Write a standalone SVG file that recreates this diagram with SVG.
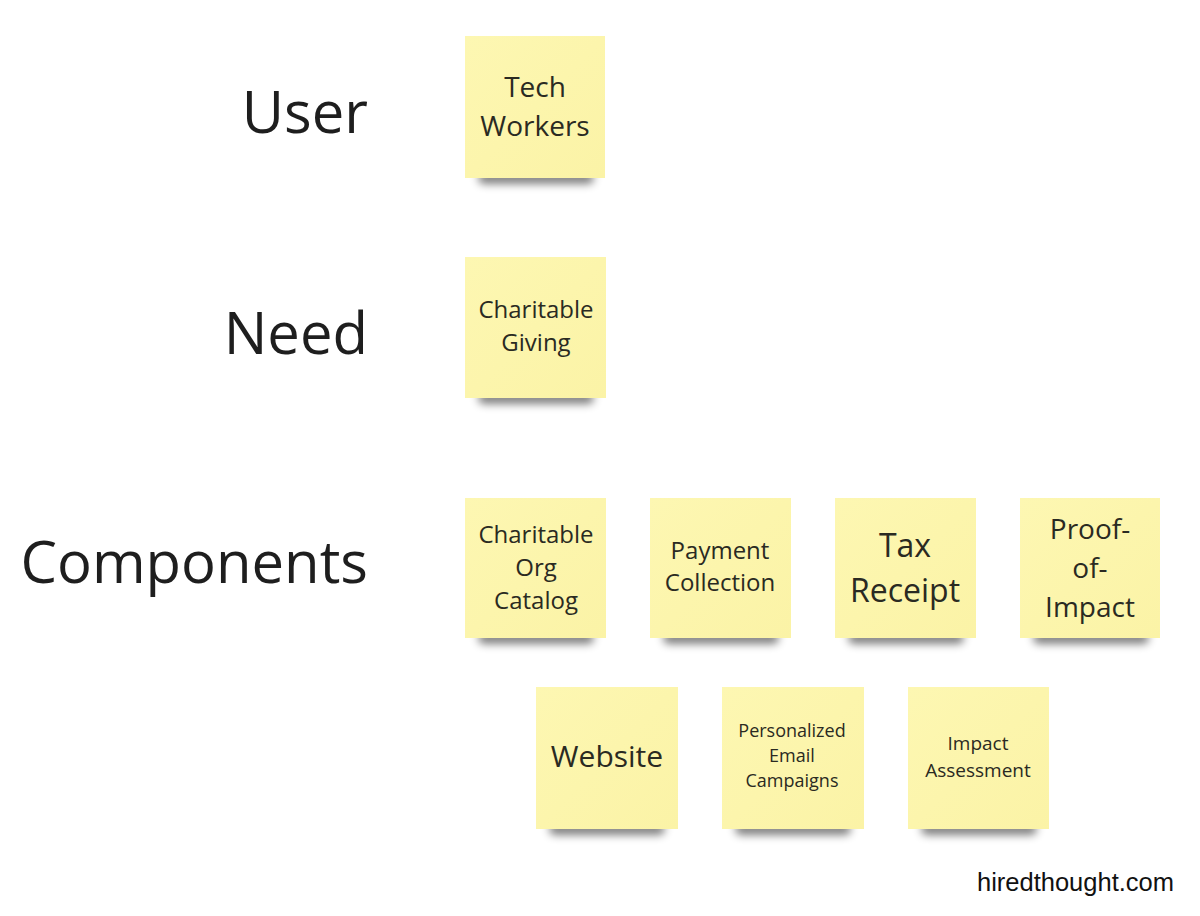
<svg xmlns="http://www.w3.org/2000/svg" width="1200" height="916" viewBox="0 0 1200 916">
<defs>
<filter id="blur" x="-20%" y="-100%" width="140%" height="300%"><feGaussianBlur stdDeviation="4.5"/></filter>
<linearGradient id="paper" x1="0" y1="0" x2="1" y2="1"><stop offset="0" stop-color="#fdf7b2"/><stop offset="1" stop-color="#fbf3a6"/></linearGradient>
</defs>
<style>
.lbl{font-family:"Open Sans","Noto Sans",sans-serif;fill:#1e1e1e;text-anchor:end;font-size:58px}
.t{font-family:"Open Sans","Noto Sans",sans-serif;fill:#2a2a22;text-anchor:middle}
.note{fill:url(#paper)}
.sh{fill:#000;opacity:0.5;filter:url(#blur)}
</style>
<rect width="1200" height="916" fill="#fff"/>
<g id="labels">
<text class="lbl" x="368" y="133">User</text>
<text class="lbl" x="368" y="354">Need</text>
<text class="lbl" x="368" y="583">Components</text>
</g>
<g id="connectors"/>
<g id="n-tech"><rect class="sh" x="478" y="172" width="116" height="12" rx="6"/><rect class="note" x="465" y="36" width="140" height="142"/>
<text class="t" font-size="28" x="535" y="97">Tech</text><text class="t" font-size="28" x="535" y="136">Workers</text></g>
<g id="n-giving"><rect class="sh" x="478" y="392" width="116" height="12" rx="6"/><rect class="note" x="465" y="257" width="141" height="141"/>
<text class="t" font-size="24" x="536" y="318">Charitable</text><text class="t" font-size="24" x="536" y="351">Giving</text></g>
<g id="n-catalog"><rect class="sh" x="478" y="632" width="116" height="12" rx="6"/><rect class="note" x="465" y="498" width="141" height="140"/>
<text class="t" font-size="24" x="536" y="543">Charitable</text><text class="t" font-size="24" x="536" y="576">Org</text><text class="t" font-size="24" x="536" y="609">Catalog</text></g>
<g id="n-payment"><rect class="sh" x="663" y="632" width="116" height="12" rx="6"/><rect class="note" x="650" y="498" width="141" height="140"/>
<text class="t" font-size="24" x="720" y="559">Payment</text><text class="t" font-size="24" x="720" y="591">Collection</text></g>
<g id="n-tax"><rect class="sh" x="848" y="632" width="116" height="12" rx="6"/><rect class="note" x="835" y="498" width="141" height="140"/>
<text class="t" font-size="32" x="905" y="557">Tax</text><text class="t" font-size="32" x="905" y="602">Receipt</text></g>
<g id="n-proof"><rect class="sh" x="1033" y="632" width="116" height="12" rx="6"/><rect class="note" x="1020" y="498" width="140" height="140"/>
<text class="t" font-size="28" x="1090" y="539">Proof-</text><text class="t" font-size="28" x="1090" y="578">of-</text><text class="t" font-size="28" x="1090" y="617">Impact</text></g>
<g id="n-website"><rect class="sh" x="549" y="823" width="116" height="12" rx="6"/><rect class="note" x="536" y="687" width="142" height="142"/>
<text class="t" font-size="30" x="607" y="767">Website</text></g>
<g id="n-email"><rect class="sh" x="735" y="823" width="116" height="12" rx="6"/><rect class="note" x="722" y="687" width="142" height="142"/>
<text class="t" font-size="18" x="792" y="737">Personalized</text><text class="t" font-size="18" x="792" y="762">Email</text><text class="t" font-size="18" x="792" y="787">Campaigns</text></g>
<g id="n-impact"><rect class="sh" x="921" y="823" width="116" height="12" rx="6"/><rect class="note" x="908" y="687" width="141" height="142"/>
<text class="t" font-size="19" x="978" y="750">Impact</text><text class="t" font-size="19" x="978" y="777">Assessment</text></g>
<text x="1174" y="891" font-family="'Liberation Sans',Arial,sans-serif" font-size="25.5" fill="#111" text-anchor="end">hiredthought.com</text>
</svg>
